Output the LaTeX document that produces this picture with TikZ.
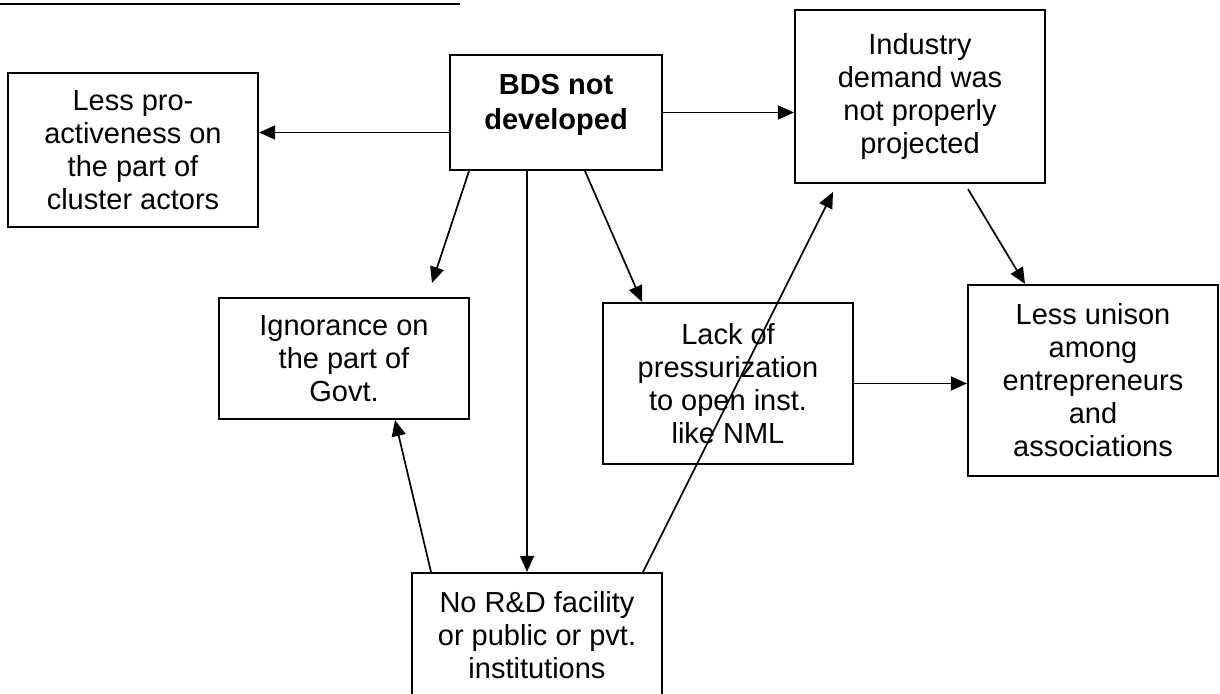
\documentclass[tikz,border=0pt]{standalone}
\usepackage{fontspec}
\setmainfont{Liberation Sans}
\usetikzlibrary{arrows.meta}
\begin{document}
\begin{tikzpicture}[x=0.5pt, y=-0.5pt,
  box/.style={draw=black, line width=1.1pt, fill=white, inner sep=0pt,
    align=center, font=\fontsize{14.5pt}{16.5pt}\selectfont},
  boldtext/.style={align=center, inner sep=0pt,
    font=\fontsize{14.5pt}{17.5pt}\selectfont\bfseries},
  link/.style={line width=0.85pt, -{Triangle[length=8pt,width=7pt]}}]
\useasboundingbox (0,0) rectangle (1220,694);
\clip (0,0) rectangle (1220,694);

% underline of the heading running across the top
\draw[line width=1.2pt] (0,4) -- (460,4);

% boxes
\node[box, minimum width=106pt, minimum height=57.5pt,
      label={[boldtext, yshift=4pt]center:BDS not\\developed}]
      (bds) at (556,112.5) {};
\node[box, minimum width=125pt, minimum height=77pt] (lesspro) at (133,150)
      {Less pro-\\activeness on\\the part of\\cluster actors};
\node[box, minimum width=125pt, minimum height=86.5pt] (industry) at (920,96.5)
      {Industry\\demand was\\not properly\\projected};
\node[box, minimum width=125pt, minimum height=60.5pt] (ignorance) at (344,358.5)
      {Ignorance on\\the part of\\Govt.};
\node[box, minimum width=125pt, minimum height=80.5pt] (lack) at (728,383.5)
      {Lack of\\pressurization\\to open inst.\\like NML};
\node[box, minimum width=125pt, minimum height=95.5pt] (unison) at (1093,380.5)
      {Less unison\\among\\entrepreneurs\\and\\associations};
\node[box, minimum width=125pt, minimum height=62.5pt] (rnd) at (537,635.5)
      {No R\&D facility\\or public or pvt.\\institutions};

% connector end points
\coordinate (bdsW) at ([shift={(0,20)}]bds.west);
\coordinate (bdsSL) at ([shift={(-87,0)}]bds.south);
\coordinate (bdsSM) at ([shift={(-29,0)}]bds.south);
\coordinate (bdsSR) at ([shift={(29,0)}]bds.south);
\coordinate (ignTip) at (432,283);
\coordinate (indTip) at (833,192);
\coordinate (rndL) at ([shift={(-106,0)}]rnd.north);
\coordinate (rndR) at ([shift={(106,0)}]rnd.north);

% connectors
\draw[link] (bdsW) -- (bdsW -| lesspro.east);
\draw[link] (bds.east) -- (bds.east -| industry.west);
\draw[link] (bdsSL) -- (ignTip);
\draw[link] (bdsSM) -- (bdsSM |- rnd.north);
\draw[link] (bdsSR) -- ([shift={(-86,0)}]lack.north);
\draw[link] (rndL) -- ([shift={(51,0)}]ignorance.south);
\draw[link] (rndR) -- (indTip);
\draw[link] ([shift={(48,5)}]industry.south) -- ([shift={(-68,0)}]unison.north);
\draw[link] (lack.east) -- (lack.east -| unison.west);
\end{tikzpicture}
\end{document}
